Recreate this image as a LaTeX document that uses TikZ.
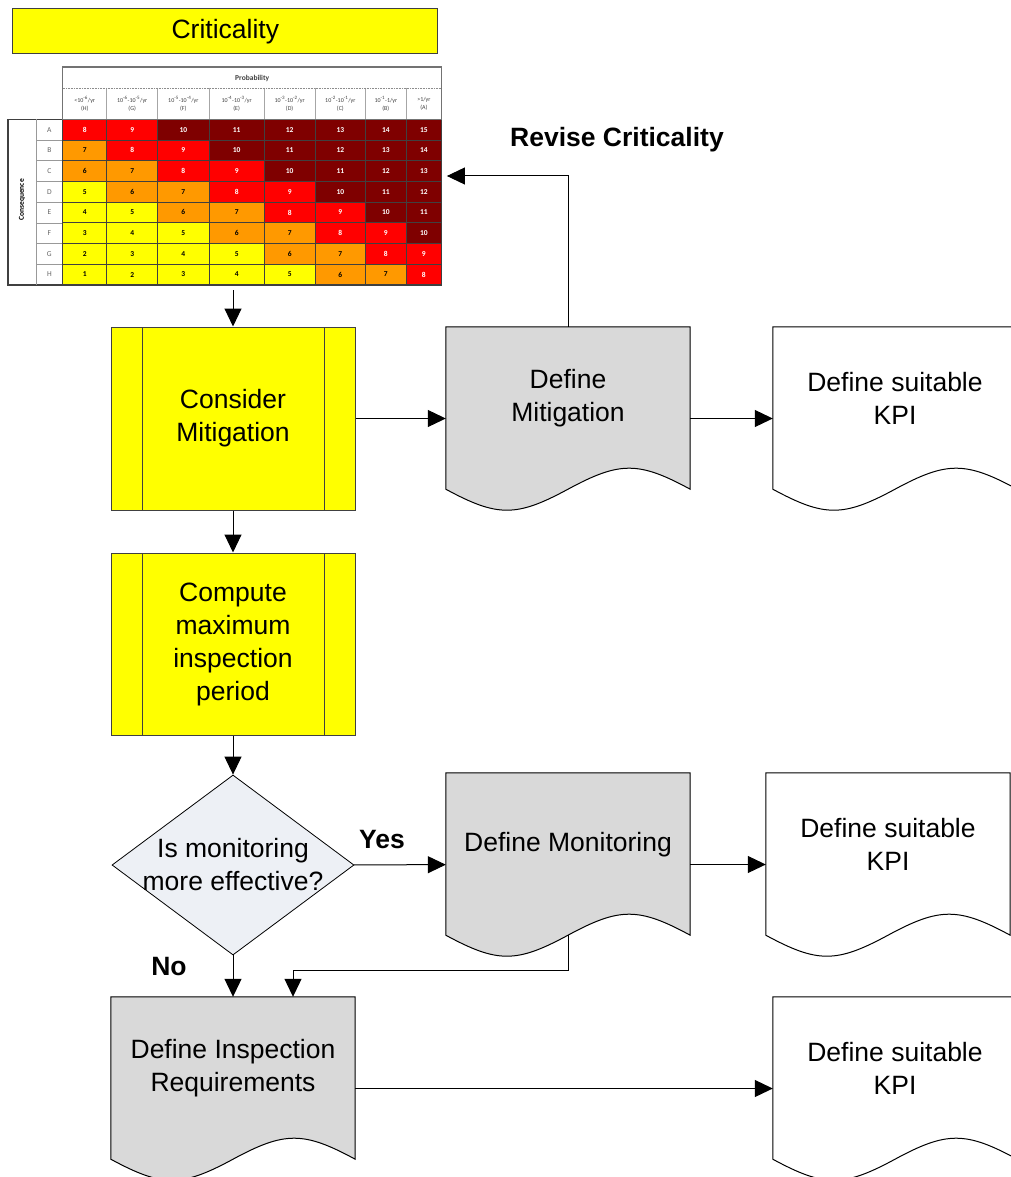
\documentclass[tikz,border=0pt]{standalone}
\usepackage{fontspec}
\setmainfont{Liberation Sans}
\newfontfamily\matfont{Carlito}
\usetikzlibrary{arrows.meta,shapes.geometric,calc,backgrounds}
\definecolor{cyel}{HTML}{FFFF00}
\definecolor{corg}{HTML}{FF9900}
\definecolor{cred}{HTML}{FF0000}
\definecolor{cdrk}{HTML}{7F0000}
\definecolor{docgray}{HTML}{D9D9D9}
\definecolor{diafill}{HTML}{EDF0F5}
\definecolor{bordc}{HTML}{404040}
\newcommand\docshape[2]{%
  \path[fill=#2, draw=black, line width=1pt] (#1.north west) -- (#1.north east)
    -- ([yshift=21pt]#1.south east)
    .. controls +(-51.7,-28) and +(51.7,-28) .. ([yshift=21pt]#1.south)
    .. controls +(-51.7,28) and +(51.7,28) .. ([yshift=21pt]#1.south west) -- cycle;}
\begin{document}
\begin{tikzpicture}[x=1pt,y=-1pt,
  big/.style={font=\fontsize{26.5}{33}\selectfont, align=center},
  boldlab/.style={font=\fontsize{26.5}{33}\selectfont\bfseries, inner sep=0pt},
  arr/.style={line width=1pt, draw=black, -{Triangle[length=18pt,width=17pt]}},
  proc/.style={draw=bordc, line width=1pt, fill=cyel, minimum width=244pt, inner sep=0pt, big,
    path picture={\draw[bordc, line width=1pt]
      ([xshift=31pt]path picture bounding box.north west) -- ([xshift=31pt]path picture bounding box.south west)
      ([xshift=-31pt]path picture bounding box.north east) -- ([xshift=-31pt]path picture bounding box.south east);}},
  docbox/.style={minimum width=244pt, minimum height=183pt, inner sep=0pt},
  doclab/.style={big, yshift=20pt},
  cellnum/.style={font=\matfont\bfseries\fontsize{7.5}{8}\selectfont, inner sep=0pt},
  lettr/.style={font=\matfont\fontsize{7.5}{8}\selectfont, text=black!60, inner sep=0pt},
  hdr/.style={font=\matfont\fontsize{6}{8.5}\selectfont, text=black!75, align=center, inner sep=0pt},
  gridl/.style={draw=bordc, line width=0.8pt},
  hdrl/.style={draw=black!35, line width=0.6pt},
  lettl/.style={draw=black!40, line width=0.6pt},
]
\useasboundingbox (0,0) rectangle (1010,1177);
\clip (0,0) rectangle (1010,1177);

% ---------- title ----------
\node[draw=bordc, line width=1pt, fill=cyel, minimum width=425.3pt, minimum height=45pt, inner sep=0pt,
      font=\fontsize{26.5}{33}\selectfont] (crit) at (225.3,31.5) {Criticality};

% ---------- risk matrix ----------
\node[inner sep=0pt, minimum width=433.7pt, minimum height=217.9pt] (mat) at (224.85,176) {};
\def\colx{{62.7,106.7,157.7,209,264.3,315,365.7,406,441.7}}
\foreach \r [count=\i from 0] in {A,B,C,D,E,F,G,H} {
  \pgfmathsetmacro\ya{119.3+20.7*\i}
  \pgfmathsetmacro\yb{\ya+20.7}
  \pgfmathsetmacro\ym{\ya+10.35}
  \node[lettr] (l\r) at (49.35,\ym) {\r};
  \foreach \c in {0,...,7} {
    \pgfmathsetmacro\xa{\colx[\c]}
    \pgfmathsetmacro\xb{\colx[\c+1]}
    \pgfmathsetmacro\xm{(\xa+\xb)/2}
    \pgfmathtruncatemacro\v{8-\i+\c}
    \ifnum\v<6 \def\cc{cyel}\def\tc{black}\else
      \ifnum\v<8 \def\cc{corg}\def\tc{black}\else
        \ifnum\v<10 \def\cc{cred}\def\tc{white}\else
          \def\cc{cdrk}\def\tc{white}\fi\fi\fi
    \fill[\cc] (\xa,\ya) rectangle (\xb,\yb);
    \node[cellnum, text=\tc] (c\r\c) at (\xm,\ym) {\v};
  }
}
\foreach \k in {1,...,7} {
  \pgfmathsetmacro\xx{\colx[\k]}
  \draw[gridl] (\xx,119.3) -- (\xx,284.9);
  \draw[hdrl] (\xx,88) -- (\xx,119.3);
}
\foreach \i in {1,...,7} {
  \pgfmathsetmacro\yy{119.3+20.7*\i}
  \draw[gridl] (62.7,\yy) -- (441.7,\yy);
  \draw[lettl] (36,\yy) -- (62.7,\yy);
}
\draw[bordc, line width=1.5pt] (62.7,119.3) rectangle (441.7,284.9);
\draw[bordc, line width=1.5pt] (8,119.3) rectangle (62.7,284.9);
\draw[lettl] (36,119.3) -- (36,284.9);
\draw[black!55, line width=1.2pt] (62.7,67) rectangle (441.7,119.3);
\draw[black!45, line width=0.6pt, densely dotted] (62.7,88) -- (441.7,88);
\node[font=\matfont\bfseries\fontsize{7.5}{8}\selectfont, text=black!75] (prob) at (252.2,78) {Probability};
\node[rotate=90, font=\matfont\bfseries\fontsize{7.5}{8}\selectfont] (cons) at (22,200) {Consequence};
\foreach \t [count=\k from 0] in {
  {<10\textsuperscript{-6}/yr\\(H)},
  {10\textsuperscript{-6}-10\textsuperscript{-5}/yr\\(G)},
  {10\textsuperscript{-5}-10\textsuperscript{-4}/yr\\(F)},
  {10\textsuperscript{-4}-10\textsuperscript{-3}/yr\\(E)},
  {10\textsuperscript{-3}-10\textsuperscript{-2}/yr\\(D)},
  {10\textsuperscript{-2}-10\textsuperscript{-1}/yr\\(C)},
  {10\textsuperscript{-1}-1/yr\\(B)},
  {>1/yr\\(A)}} {
  \pgfmathsetmacro\xa{\colx[\k]}
  \pgfmathsetmacro\xb{\colx[\k+1]}
  \pgfmathsetmacro\xm{(\xa+\xb)/2}
  \node[hdr] (h\k) at (\xm,104) {\t};
}

% ---------- flow nodes ----------
\node[proc, minimum height=183pt] (cm) at (233,418.5) {Consider\\Mitigation};
\node[proc, minimum height=182pt] (cmp) at (233,644) {Compute\\maximum\\inspection\\period};
\node[diamond, aspect=1.34, draw=black, line width=0.8pt, fill=diafill, minimum width=242pt, minimum height=180pt,
      inner sep=0pt, label={[big]center:Is monitoring\\more effective?}] (dia) at (233,865) {};

\node[docbox, label={[doclab]center:Define\\Mitigation}] (dm) at (568,418.5) {};
\node[docbox, label={[doclab]center:Define suitable\\KPI}] (k1) at (895,418.5) {};
\node[docbox, label={[doclab]center:Define Monitoring}] (dmon) at (568,864.5) {};
\node[docbox, label={[doclab]center:Define suitable\\KPI}] (k2) at (888,864.5) {};
\node[docbox, label={[doclab]center:Define Inspection\\Requirements}] (di) at (233,1088.5) {};
\node[docbox, label={[doclab]center:Define suitable\\KPI}] (k3) at (895,1088.5) {};

\begin{pgfonlayer}{background}
  \fill[white] (0,0) rectangle (1010,1177);
  \docshape{dm}{docgray}
  \docshape{k1}{white}
  \docshape{dmon}{docgray}
  \docshape{k2}{white}
  \docshape{di}{docgray}
  \docshape{k3}{white}
\end{pgfonlayer}

% ---------- labels ----------
\node[boldlab] (rev) at (617,140) {Revise Criticality};
\node[boldlab] (yes) at (382,840) {Yes};
\node[boldlab] (no) at (169,967) {No};

% ---------- connectors ----------
\draw[arr, shorten <=5pt] (mat.south -| cm.north) -- (cm.north);
\draw[arr] (cm) -- (dm);
\draw[arr] (dm) -- (k1);
\draw[arr, shorten >=5pt] (dm.north) |- (mat.east);
\draw[arr] (cm) -- (cmp);
\draw[arr] (cmp) -- (dia);
\draw[arr] (dia) -- (dmon);
\draw[arr] (dmon) -- (k2);
\draw[arr] (dia.south) -- (di.north);
\draw[arr] ([yshift=21pt]dmon.south) -- ++(0,35) -| ([xshift=60pt]di.north);
\draw[arr] (di) -- (k3);
\end{tikzpicture}
\end{document}
